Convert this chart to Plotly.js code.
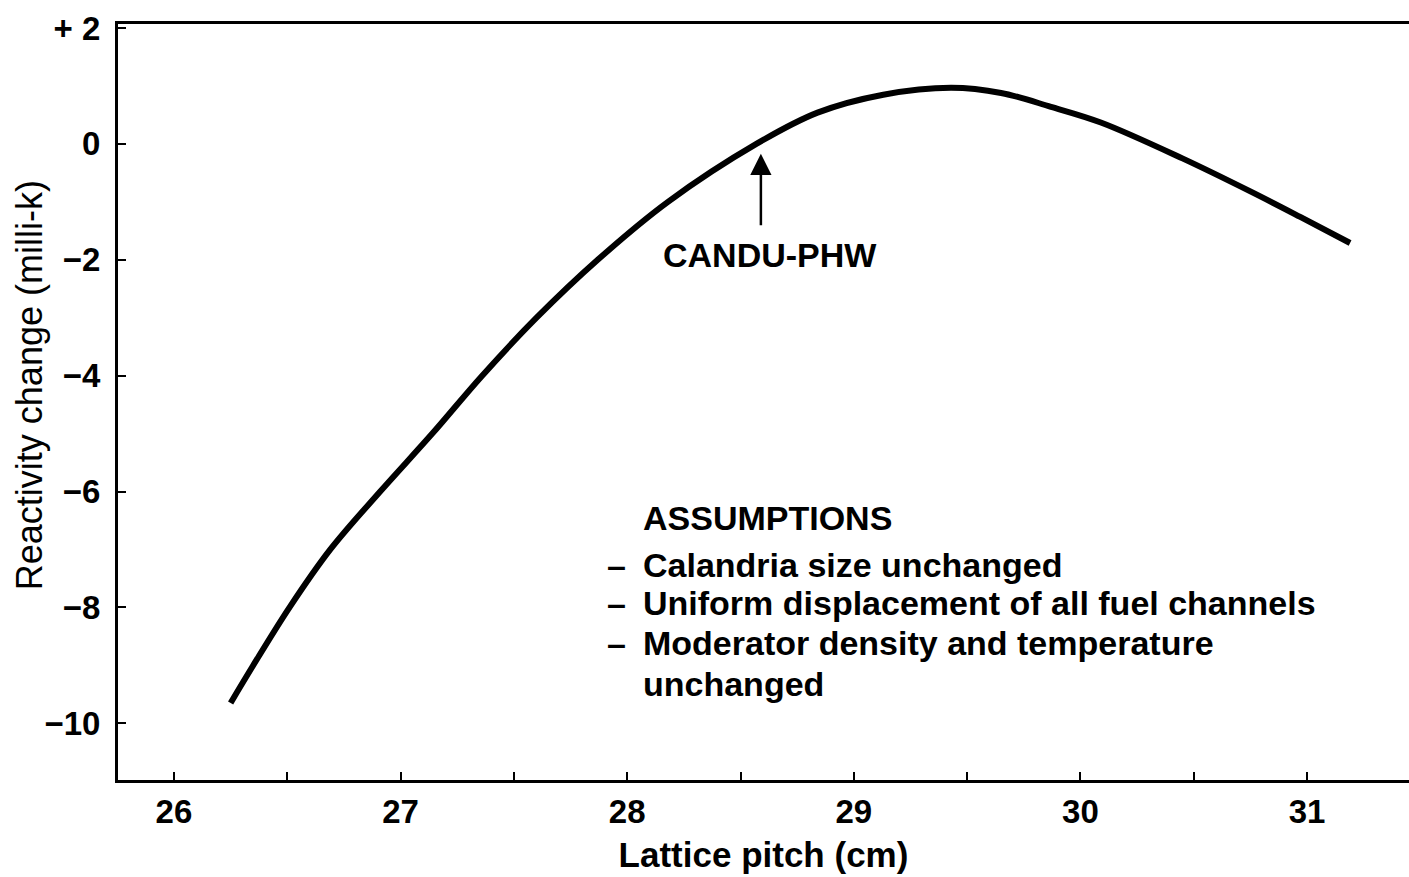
<!DOCTYPE html>
<html>
<head>
<meta charset="utf-8">
<script src="https://cdn.plot.ly/plotly-3.0.1.min.js"></script>
<style>html,body{margin:0;padding:0;background:#fff;}#chart{width:1409px;height:877px;}</style>
</head>
<body>
<div id="chart"></div>
<script>
// Lattice pitch (cm)
const latticePitch = [26.25, 26.35, 26.51, 26.69, 26.91, 27.14, 27.36, 27.60, 27.87, 28.18, 28.57, 28.84, 29.13, 29.43, 29.65, 29.87, 30.09, 30.45, 30.75, 30.97, 31.19];
// Reactivity change (milli-k)
const reactivity = [-9.65, -9.00, -8.00, -7.00, -6.00, -5.00, -4.00, -3.00, -2.00, -1.00, 0.00, 0.54, 0.85, 0.97, 0.88, 0.64, 0.37, -0.25, -0.82, -1.26, -1.71];

const xTickVals = [26, 26.5, 27, 27.5, 28, 28.5, 29, 29.5, 30, 30.5, 31];
const xTickText = ['26', '', '27', '', '28', '', '29', '', '30', '', '31'];
const yTickVals = [2, 0, -2, -4, -6, -8, -10];
const yTickText = ['+ 2', '0', '\u22122', '\u22124', '\u22126', '\u22128', '\u221210'];

const xTitle = 'Lattice pitch (cm)';
const yTitle = 'Reactivity change (milli-k)';
const canduLabel = 'CANDU-PHW';
const canduPitch = 28.59;
const assumptionsTitle = 'ASSUMPTIONS';
const assumptionLines = [
  'Calandria size unchanged',
  'Uniform displacement of all fuel channels',
  'Moderator density and temperature',
  'unchanged'
];
const assumptionBullets = ['\u2013', '\u2013', '\u2013', ''];

const FONT = 'Liberation Sans, Arial, sans-serif';
const annFont = {family: FONT, size: 34, color: '#000', weight: 'bold'};

const trace = {
  x: latticePitch,
  y: reactivity,
  mode: 'lines',
  type: 'scatter',
  line: {color: '#000', width: 6, shape: 'spline', smoothing: 1},
  hoverinfo: 'skip'
};

const lineYs = [-7.27, -7.93, -8.62, -9.33];
const annotations = [
  {x: canduPitch, y: -0.17, xref: 'x', yref: 'y', text: '', showarrow: true,
   ax: 0, ay: 73, axref: 'pixel', ayref: 'pixel', arrowhead: 2, arrowsize: 1.7, arrowwidth: 2.5, arrowcolor: '#000'},
  {x: 28.63, y: -1.92, xref: 'x', yref: 'y', text: canduLabel, showarrow: false,
   xanchor: 'center', yanchor: 'middle', font: annFont},
  {x: 28.06, y: -6.46, xref: 'x', yref: 'y', text: assumptionsTitle, showarrow: false,
   xanchor: 'left', yanchor: 'middle', font: annFont},
  {x: -0.068, y: 0.5225, xref: 'paper', yref: 'paper', text: yTitle, showarrow: false,
   textangle: -90, xanchor: 'center', yanchor: 'middle',
   font: {family: FONT, size: 36, color: '#000'}}
];
assumptionLines.forEach((t, i) => {
  if (assumptionBullets[i]) {
    annotations.push({x: 27.90, y: lineYs[i], xref: 'x', yref: 'y', text: assumptionBullets[i], showarrow: false,
      xanchor: 'left', yanchor: 'middle', font: annFont});
  }
  annotations.push({x: 28.06, y: lineYs[i], xref: 'x', yref: 'y', text: t, showarrow: false,
    xanchor: 'left', yanchor: 'middle', font: annFont});
});

const layout = {
  width: 1409, height: 877,
  margin: {l: 118, r: 0, t: 24, b: 97},
  paper_bgcolor: '#fff', plot_bgcolor: '#fff',
  showlegend: false,
  font: {family: FONT, color: '#000'},
  xaxis: {
    range: [25.753, 31.45],
    tickvals: xTickVals, ticktext: xTickText,
    ticks: 'inside', ticklen: 8, tickwidth: 2, tickcolor: '#000',
    showline: true, linecolor: '#000', linewidth: 3, mirror: true,
    showgrid: false, zeroline: false,
    tickfont: {family: FONT, size: 33, color: '#000', weight: 'bold'},
    title: {text: xTitle, font: {family: FONT, size: 35, color: '#000', weight: 'bold'}, standoff: 14}
  },
  yaxis: {
    range: [-10.98, 2.07],
    tickvals: yTickVals, ticktext: yTickText,
    ticks: 'inside', ticklen: 8, tickwidth: 2, tickcolor: '#000',
    showline: true, linecolor: '#000', linewidth: 3,
    showgrid: false, zeroline: false,
    ticklabelstandoff: 8,
    tickfont: {family: FONT, size: 33, color: '#000', weight: 'bold'}
  },
  annotations: annotations
};

Plotly.newPlot('chart', [trace], layout, {displayModeBar: false, staticPlot: true});
</script>
</body>
</html>
